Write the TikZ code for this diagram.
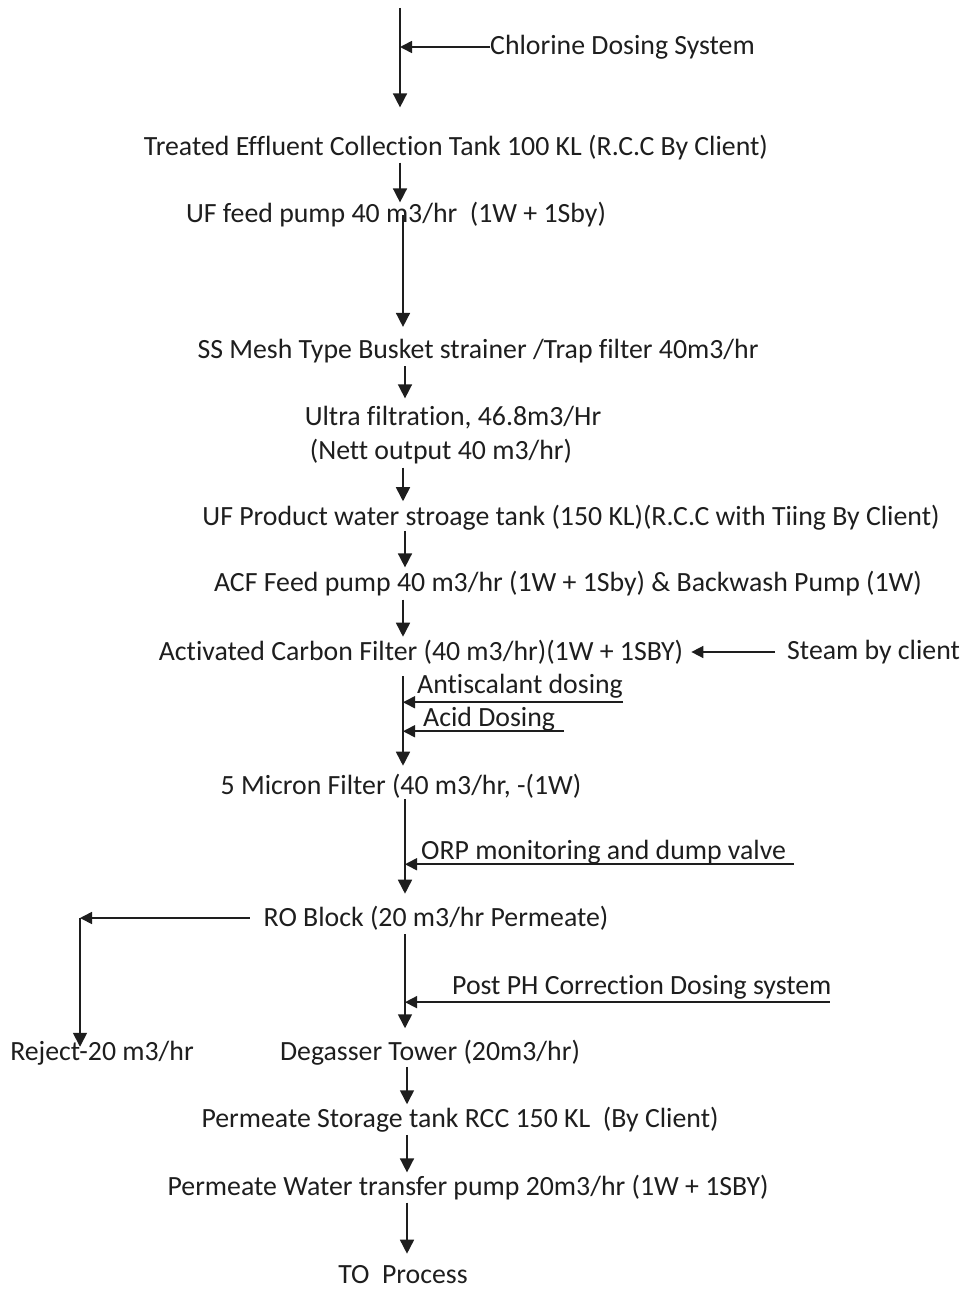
\documentclass[tikz,border=0pt]{standalone}
\usepackage{fontspec}
\setmainfont{Carlito}[Ligatures=NoCommon]
\usetikzlibrary{arrows.meta}
\definecolor{ink}{HTML}{1E1E1E}
\begin{document}
\begin{tikzpicture}[x=1pt,y=-1pt,
  every node/.style={inner sep=0pt,text=ink,font=\fontsize{27.8}{32}\selectfont},
  arr/.style={draw=ink,line width=1.6pt,-{Triangle[length=14pt,width=14pt]}},
  sarr/.style={draw=ink,line width=1.6pt,-{Triangle[length=12pt,width=12pt]}},
  ln/.style={draw=ink,line width=1.6pt}]
\useasboundingbox[fill=white] (0,0) rectangle (965,1290);
% x guides
\coordinate (L400) at (400,0);
\coordinate (L403) at (403,0);
\coordinate (L405) at (405,0);
\coordinate (L407) at (407,0);
\coordinate (top) at (400,8);
\coordinate (R) at (80,918);
% nodes
\node[anchor=west] (chl) at (490,47) {Chlorine Dosing System};
\node (tank) at (456,148) {Treated Effluent Collection Tank 100 KL (R.C.C By Client)};
\node (uf) at (396,215) {UF feed pump 40 m3/hr\ \ (1W + 1Sby)};
\node (ss) at (478,351) {SS Mesh Type Busket strainer /Trap filter 40m3/hr};
\node (ultra) at (453,418) {Ultra filtration, 46.8m3/Hr};
\node (nett) at (441,452) {(Nett output 40 m3/hr)};
\node (ufp) at (571,518) {UF Product water stroage tank (150 KL)(R.C.C with Tiing By Client)};
\node (acfp) at (568,584) {ACF Feed pump 40 m3/hr (1W + 1Sby) \& Backwash Pump (1W)};
\node (acf) at (421,652) {Activated Carbon Filter (40 m3/hr)(1W + 1SBY)};
\node[anchor=west] (steam) at (787,652) {Steam by client};
\node[anchor=west] (anti) at (417,686) {Antiscalant dosing};
\node[anchor=west] (acid) at (423,719) {Acid Dosing};
\node (micron) at (401,786) {5 Micron Filter (40 m3/hr, -(1W)};
\node[anchor=west] (orp) at (421,852) {ORP monitoring and dump valve};
\node (ro) at (436,918) {RO Block (20 m3/hr Permeate)};
\node[anchor=west] (post) at (452,987) {Post PH Correction Dosing system};
\node (reject) at (102,1053) {Reject-20 m3/hr};
\node (degas) at (430,1053) {Degasser Tower (20m3/hr)};
\node (perm) at (460,1120) {Permeate Storage tank RCC 150 KL\ \ (By Client)};
\node (pump) at (468,1188) {Permeate Water transfer pump 20m3/hr (1W + 1SBY)};
\node (to) at (403,1275) {TO\ \ Process};
% main flow
\draw[arr,shorten >=28pt] (top) -- (tank.north -| L400);
\draw[arr,shorten <=2pt] (tank.south -| L400) -- (uf.north -| L400);
\draw[arr,shorten >=12pt] (uf.center -| L403) -- (ss.north -| L403);
\draw[arr,shorten <=3pt,shorten >=8pt] (ss.south -| L405) -- (ultra.north -| L405);
\draw[arr,shorten <=3pt,shorten >=4pt] (nett.south -| L403) -- (ufp.north -| L403);
\draw[arr,shorten >=4pt] (ufp.south -| L405) -- (acfp.north -| L405);
\draw[arr,shorten <=3pt,shorten >=3pt] (acfp.south -| L403) -- (acf.north -| L403);
\draw[arr,shorten <=12pt,shorten >=8pt] (acf.south -| L403) -- (micron.north -| L403);
\draw[arr,shorten <=1pt,shorten >=12pt] (micron.south -| L405) -- (ro.north -| L405);
\draw[arr,shorten <=4pt,shorten >=12pt] (ro.south -| L405) -- (degas.north -| L405);
\draw[arr,shorten <=1pt,shorten >=3pt] (degas.south -| L407) -- (perm.north -| L407);
\draw[arr,shorten <=2pt,shorten >=3pt] (perm.south -| L407) -- (pump.north -| L407);
\draw[arr,shorten <=2pt,shorten >=12pt] (pump.south -| L407) -- (to.north -| L407);
% side feeds
\draw[sarr] (chl.west) -- (chl.west -| L400);
\draw[sarr,shorten <=12pt,shorten >=8pt] (steam.west) -- (acf.east);
\draw[sarr] ([yshift=-4pt]anti.south east) -- ([yshift=-4pt]anti.south east -| L403);
\draw[sarr] ([xshift=9pt]acid.south east) -- (acid.south east -| L403);
\draw[sarr] ([xshift=8pt]orp.south east) -- (orp.south east -| L405);
\draw[sarr] ([xshift=-2pt,yshift=-3pt]post.south east) -- ([yshift=-3pt]post.south east -| L405);
% reject
\draw[sarr,shorten <=14pt] (ro.west) -- (R);
\draw[arr,shorten >=-6pt] (R) -- (reject.north -| R);
\end{tikzpicture}
\end{document}
